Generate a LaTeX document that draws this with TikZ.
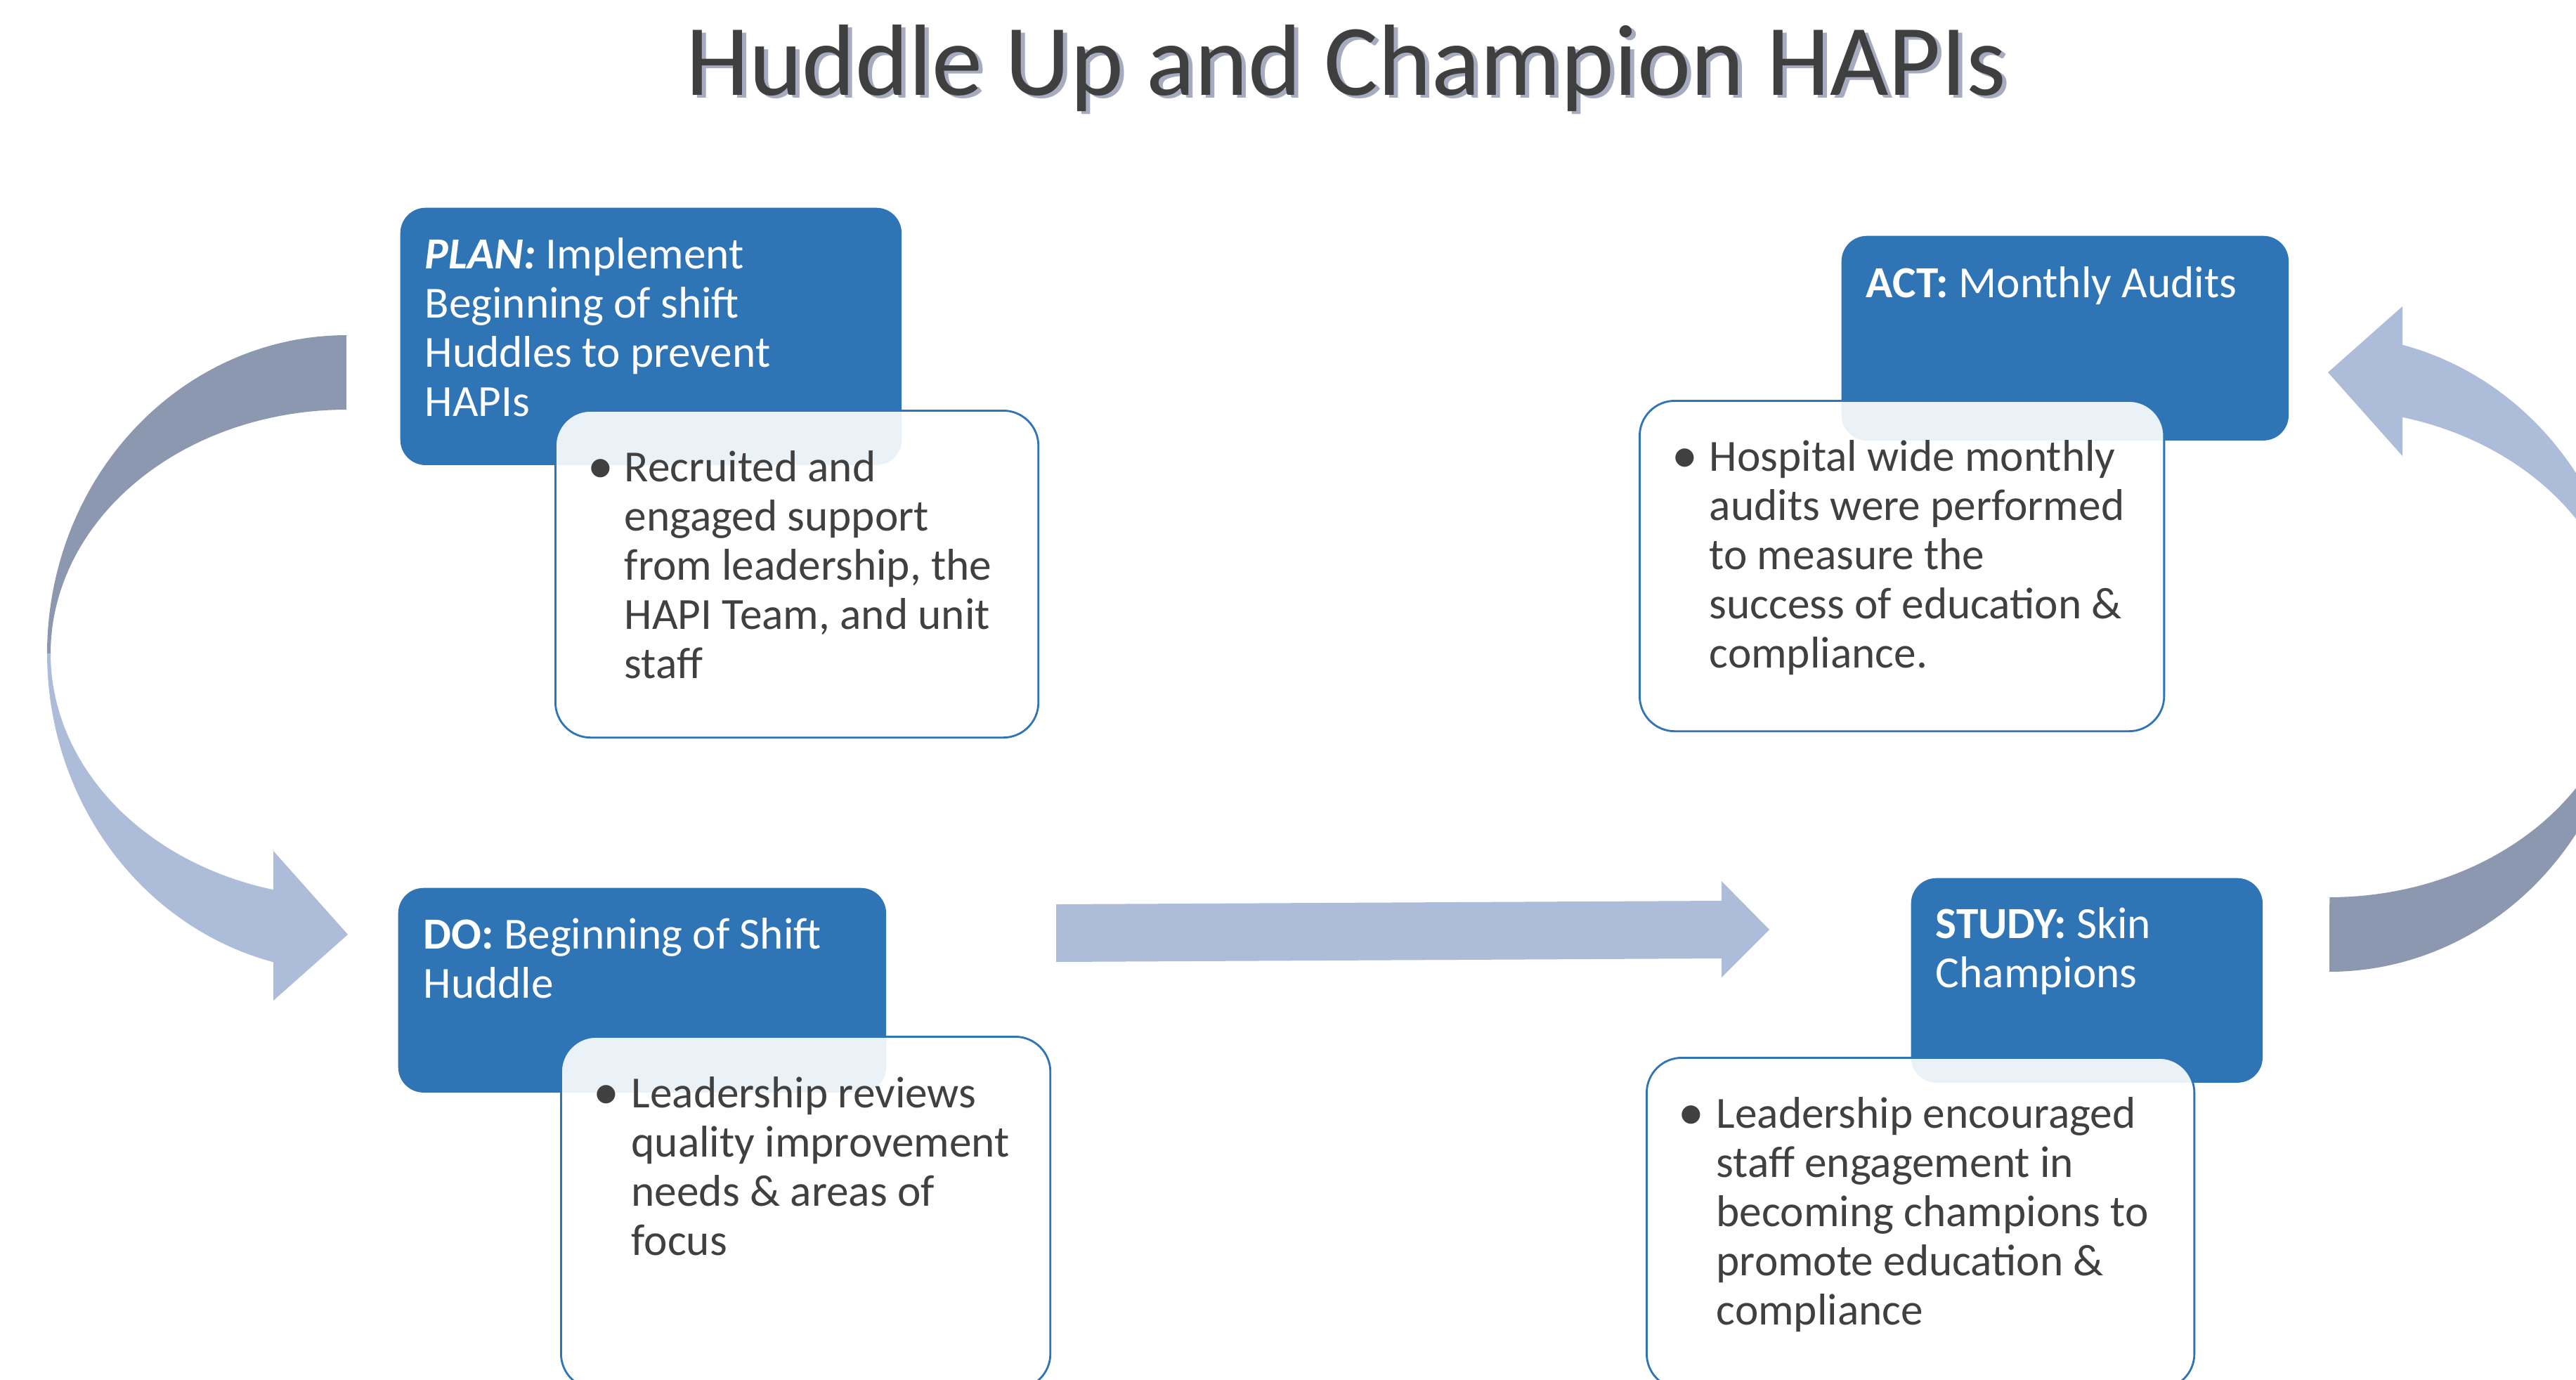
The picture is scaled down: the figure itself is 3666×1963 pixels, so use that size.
\documentclass[tikz,border=0pt]{standalone}
\usepackage{fontspec}
\setmainfont{Carlito}
\definecolor{boxblue}{HTML}{2F74B5}
\definecolor{arrowdark}{HTML}{8C98AF}
\definecolor{arrowlight}{HTML}{ADBCD9}
\definecolor{textgray}{HTML}{404040}
\definecolor{titlegray}{HTML}{3F3F3F}
\definecolor{shadowc}{HTML}{A7ABC0}
\newcommand\bxfont{\fontsize{18}{19.9}\selectfont}
\newcommand\ttlfont{\fontsize{41}{45}\selectfont}
\newcommand\fstrut{\rule{0pt}{14pt}}
\newcommand\drawbend{%
  \fill[arrowdark] plot[domain=0:1, samples=50] ({493+426*cos(270-90*\x)},{930+453*sin(270-90*\x)})
     -- plot[domain=0:1, samples=50] ({493+421*cos(180+90*\x)},{930+347*sin(180+90*\x)}) -- cycle;
  \fill[arrowlight] plot[domain=0:1, samples=50] ({493+426*cos(180-75.9*\x)},{930+453*sin(180-75.9*\x)})
     -- (389,1424) -- (495,1330) -- (389,1211)
     -- plot[domain=0:1, samples=50] ({493+421*cos(104.3+75.7*\x)},{930+347*sin(104.3+75.7*\x)}) -- cycle;
}
\begin{document}
\begin{tikzpicture}[x=0.01cm,y=-0.01cm,
  bluebox/.style={fill=boxblue, draw=none, rounded corners=0.36cm, anchor=north west, inner sep=0pt},
  notebox/.style={fill=white, fill opacity=0.9, draw=boxblue, line width=0.8pt, rounded corners=0.5cm, anchor=north west, inner sep=0pt},
  bluetext/.style={anchor=north west, inner sep=0pt, align=left, text=white, font=\bxfont},
  graytext/.style={anchor=north west, inner sep=0pt, align=left, text=textgray, font=\bxfont},
  bulletmark/.style={anchor=base, inner sep=0pt, text=textgray, font=\fontsize{21}{22}\selectfont}]
\useasboundingbox (0,0) rectangle (3666,1963);
\clip (0,0) rectangle (3666,1963);
\fill[white] (0,0) rectangle (3666,1963);

% title
\node[anchor=base, inner sep=0pt, text=shadowc, font=\ttlfont] (titleshadow) at (1922,139) {Huddle Up and Champion HAPIs};
\node[anchor=base, inner sep=0pt, text=titlegray, font=\ttlfont] (title) at (1916,135) {Huddle Up and Champion HAPIs};

% curved arrows
\drawbend
\begin{scope}[shift={(3808,1860)}, xscale=-1, yscale=-1]
\drawbend
\end{scope}

% straight arrow
\fill[arrowlight] (1503,1287) -- (2450,1282) -- (2450,1254) -- (2518,1323) -- (2450,1391) -- (2450,1364) -- (1503,1369) -- cycle;

% blue boxes
\node[bluebox, minimum width=7.13cm, minimum height=3.66cm] (plan) at (569,295) {};
\node[bluebox, minimum width=6.94cm, minimum height=2.91cm] (do) at (566,1263) {};
\node[bluebox, minimum width=6.36cm, minimum height=2.91cm] (act) at (2620,335) {};
\node[bluebox, minimum width=5.00cm, minimum height=2.91cm] (study) at (2719,1249) {};

% note boxes
\node[notebox, minimum width=6.87cm, minimum height=4.65cm] (plannote) at (789,583) {};
\node[notebox, minimum width=6.96cm, minimum height=5.01cm] (donote) at (797,1474) {};
\node[notebox, minimum width=7.46cm, minimum height=4.70cm] (actnote) at (2332,569) {};
\node[notebox, minimum width=7.79cm, minimum height=4.71cm] (studynote) at (2342,1504) {};

% blue box texts
\node[bluetext] (plantext) at (604,332.8) {\fstrut\textbf{\textit{PLAN:}} Implement\\Beginning of shift\\Huddles to prevent\\HAPIs};
\node[bluetext] (dotext) at (602,1300.8) {\fstrut\textbf{DO:} Beginning of Shift\\Huddle};
\node[bluetext] (acttext) at (2655,373.8) {\fstrut\textbf{ACT:} Monthly Audits};
\node[bluetext] (studytext) at (2754,1285.8) {\fstrut\textbf{STUDY:} Skin\\Champions};

% note texts
\node[bulletmark] (planbullet) at (855,687) {•};
\node[graytext] (plannotetext) at (888,635.8) {\fstrut Recruited and\\engaged support\\from leadership, the\\HAPI Team, and unit\\staff};
\node[bulletmark] (dobullet) at (863,1578) {•};
\node[graytext] (donotetext) at (898,1526.8) {\fstrut Leadership reviews\\quality improvement\\needs \& areas of\\focus};
\node[bulletmark] (actbullet) at (2398,672) {•};
\node[graytext] (actnotetext) at (2432,620.8) {\fstrut Hospital wide monthly\\audits were performed\\to measure the\\success of education \&\\compliance.};
\node[bulletmark] (studybullet) at (2407,1607) {•};
\node[graytext] (studynotetext) at (2442,1555.8) {\fstrut Leadership encouraged\\staff engagement in\\becoming champions to\\promote education \&\\compliance};
\end{tikzpicture}
\end{document}
